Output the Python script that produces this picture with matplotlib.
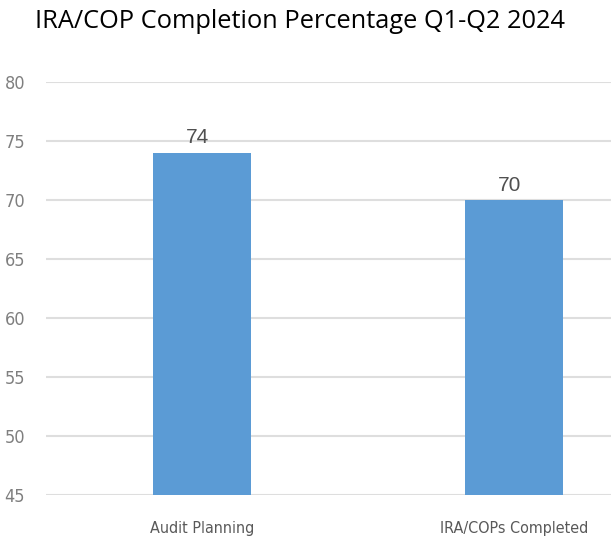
import matplotlib
matplotlib.use('Agg')
import matplotlib.pyplot as plt

# chart data
categories = ['Audit Planning', 'IRA/COPs Completed']
values = [74, 70]
y_ticks = [45, 50, 55, 60, 65, 70, 75, 80]

fig = plt.figure(figsize=(6.11, 5.41), dpi=100)
ax = fig.add_axes([46 / 611, 1 - 495 / 541, 1 - 46 / 611, (495 - 82) / 541])

x = range(len(categories))
bars = ax.bar(x, values, width=0.314, color='#5B9BD5', zorder=3)

ax.set_ylim(45, 80)
ax.set_xlim(-0.5, -0.5 + 565 / 312)
ax.set_yticks(y_ticks)
ax.set_xticks(list(x))
ax.set_xticklabels(categories)

ax.grid(axis='y', color='#dedede', linewidth=1.5, zorder=0)
for s in ax.spines.values():
    s.set_visible(False)
ax.tick_params(axis='both', length=0)
ax.tick_params(axis='y', pad=15, labelsize=13, labelcolor='#7f7f7f')
ax.tick_params(axis='x', pad=19, labelsize=11.5, labelcolor='#595959')
for lab in ax.get_yticklabels() + ax.get_xticklabels():
    lab.set_fontstretch('condensed')
    lab.set_family('DejaVu Sans')

# value labels
for b, v in zip(bars, values):
    ax.text(b.get_x() + b.get_width() / 2 - 0.015, v + 0.45, str(v), ha='center', va='bottom',
            fontsize=15, color='#505050', family='Liberation Sans')

fig.text(300 / 611, 1 - 22 / 541, 'IRA/COP Completion Percentage Q1-Q2 2024',
         ha='center', va='center', fontsize=18.3, family='Open Sans', color='black')

plt.savefig('out.png', dpi=100)
